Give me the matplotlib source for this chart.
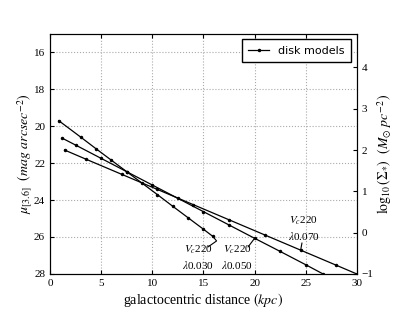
import matplotlib
matplotlib.use('Agg')
import matplotlib.pyplot as plt

# =============================================================================
# Data
# =============================================================================
radA = [0.85, 3.0, 4.5, 6.0, 7.5, 9.0, 10.5, 12.0, 13.5, 15.0, 15.9]
muA = [19.71, 20.60, 21.23, 21.85, 22.47, 23.09, 23.71, 24.34, 24.96, 25.58, 25.96]

radB = [1.2, 2.5, 5.0, 7.5, 10.0, 12.5, 15.0, 17.5, 20.0, 22.5, 25.0, 26.7]
muB = [20.66, 21.03, 21.75, 22.47, 23.19, 23.91, 24.63, 25.35, 26.07, 26.78, 27.50, 28.0]

radC = [1.43, 3.5, 7.0, 10.5, 14.0, 17.5, 21.0, 24.5, 28.0, 30.0]
muC = [21.30, 21.79, 22.61, 23.43, 24.25, 25.07, 25.89, 26.71, 27.53, 28.00]

labA = '$V_c$220\n$\\lambda$0.030'
labB = '$V_c$220\n$\\lambda$0.050'
labC = '$V_c$220\n$\\lambda$0.070'

xticks = [0, 5, 10, 15, 20, 25, 30]
yticks = [16, 18, 20, 22, 24, 26, 28]
y2ticks = [-1, 0, 1, 2, 3, 4]

# =============================================================================
# Plot
# =============================================================================
plt.rcParams['font.family'] = ['Liberation Serif', 'DejaVu Serif']
plt.rcParams['mathtext.fontset'] = 'stix'
plt.rcParams['xtick.direction'] = 'in'
plt.rcParams['ytick.direction'] = 'in'

fig = plt.figure(figsize=(4.15, 3.12), dpi=100)
ax = fig.add_axes([0.1205, 0.1218, 0.7395, 0.7708])

kw = dict(color='k', lw=0.9, marker='.', ms=3)
ax.plot(radA, muA, label='disk models', **kw)
ax.plot(radB, muB, **kw)
ax.plot(radC, muC, **kw)

ax.set_xlim(0, 30)
ax.set_ylim(28, 15)
ax.set_xticks(xticks)
ax.set_yticks(yticks)
ax.tick_params(labelsize=8, length=3, top=True)
ax.grid(True, ls=':', color='#aaaaaa', lw=0.8)
for s in ax.spines.values():
    s.set_color('#222222')

ax.set_xlabel('galactocentric distance $(kpc)$', fontsize=10, labelpad=2)
ax.set_ylabel('$\\mu_{[3.6]}$  $(mag\\ arcsec^{-2})$', fontsize=10, labelpad=0)

# model labels
tkw = dict(fontsize=8, ha='center', va='center', linespacing=1.3)
ax.text(14.5, 27.1, labA, **tkw)
ax.text(18.3, 27.1, labB, **tkw)
ax.text(24.8, 25.5, labC, **tkw)

# leaders from labels to curves
akw = dict(arrowstyle='-', lw=0.8, color='k', shrinkA=0, shrinkB=0)
ax.annotate('', xy=(15.9, 25.96), xytext=(15.44, 26.54),
            arrowprops=dict(connectionstyle='angle,angleA=35,angleB=-50,rad=0', **akw))
ax.annotate('', xy=(20.0, 26.07), xytext=(19.36, 26.54), arrowprops=akw)
ax.annotate('', xy=(24.5, 26.71), xytext=(24.63, 26.32), arrowprops=akw)

leg = ax.legend(loc='upper right', fancybox=False, framealpha=1,
                prop={'family': 'DejaVu Sans', 'size': 8}, handlelength=1.9,
                borderaxespad=0.5, borderpad=0.6)
leg.get_frame().set_edgecolor('k')

ax2 = ax.twinx()
ax2.set_ylim(-1, 4.82)
ax2.set_yticks(y2ticks)
ax2.tick_params(labelsize=8, length=3, direction='in')
ax2.set_ylabel('$\\log_{10}(\\Sigma_{*})$  $(M_{\\odot}\\ pc^{-2})$', fontsize=10, labelpad=1)

fig.savefig('out.png', dpi=100)
